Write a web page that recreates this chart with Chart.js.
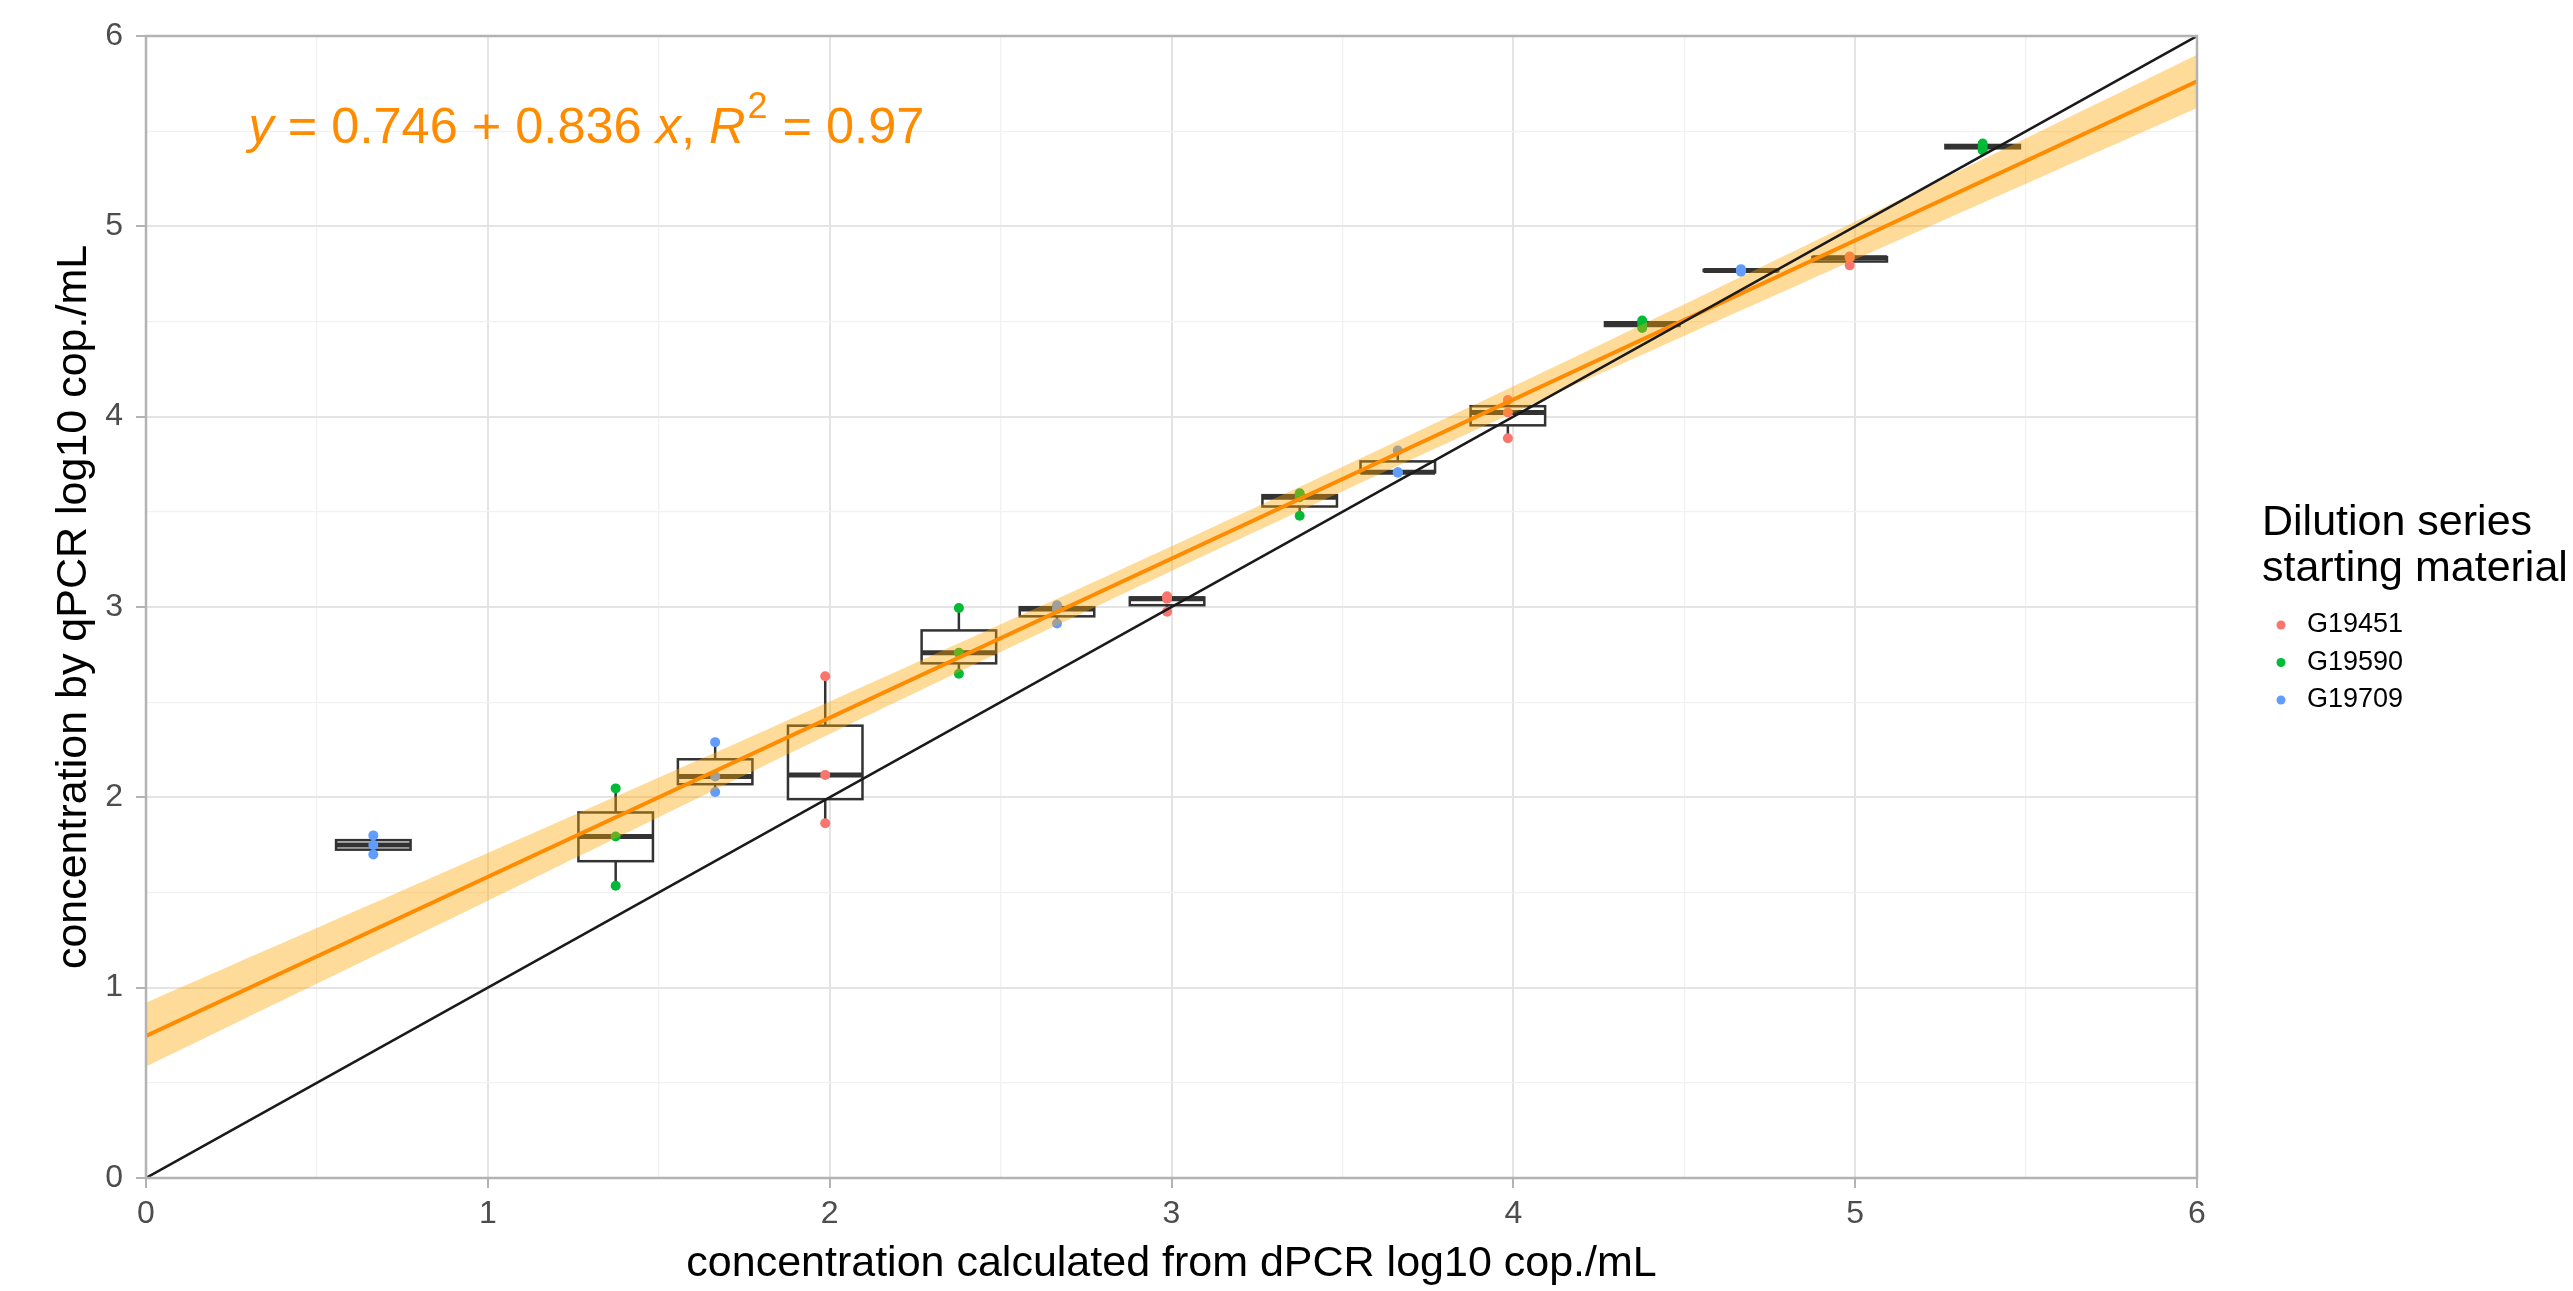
<!DOCTYPE html>
<html>
<head>
<meta charset="utf-8">
<title>qPCR vs dPCR</title>
<script src="https://cdn.jsdelivr.net/npm/chart.js@4.4.1/dist/chart.umd.min.js"></script>
<style>
  html, body { margin: 0; padding: 0; background: #fff; }
  #wrap { width: 2573px; height: 1291px; position: relative; }
</style>
</head>
<body>
<div id="wrap"><canvas id="chart"></canvas></div>
<script>
// dilution series starting materials
const materials = ['G19451', 'G19590', 'G19709'];
const materialColors = ['#F8766D', '#00BA38', '#619CFF'];

// one box per dilution step: dPCR concentration, material, qPCR replicates
const dpcrConc = [0.665, 1.374, 1.665, 1.987, 2.378, 2.665, 2.987, 3.375, 3.662, 3.984, 4.377, 4.666, 4.984, 5.373];
const boxMaterial = [2, 1, 2, 0, 1, 2, 0, 1, 2, 0, 1, 2, 0, 1];
const qpcrReps = [
    [1.80, 1.75, 1.70],
    [2.047, 1.794, 1.535],
    [2.29, 2.11, 2.028],
    [2.636, 2.117, 1.864],
    [2.995, 2.759, 2.649],
    [3.009, 2.989, 2.913],
    [3.056, 3.044, 2.975],
    [3.598, 3.577, 3.479],
    [3.822, 3.708, 3.706],
    [4.088, 4.022, 3.887],
    [4.505, 4.487, 4.466],
    [4.775, 4.768, 4.762],
    [4.842, 4.835, 4.795],
    [5.435, 5.42, 5.40]
];

// regression line and its confidence band
const fitX = [0, 6];
const fitY = [0.746, 5.762];
const bandX = [0, 1, 2, 3, 4, 5, 6];
const bandUpper = [0.921, 1.707, 2.503, 3.319, 4.16, 5.026, 5.902];
const bandLower = [0.586, 1.457, 2.333, 3.189, 4.02, 4.826, 5.622];

// y = x reference line
const identityX = [0, 6];
const identityY = [0, 6];

const equationParts = [
    { text: 'y', italic: true },
    { text: ' = 0.746 + 0.836 ' },
    { text: 'x', italic: true },
    { text: ', ' },
    { text: 'R', italic: true },
    { text: '2', sup: true },
    { text: ' = 0.97' }
];
const legendTitle = ['Dilution series', 'starting material'];

const FONT = '"Liberation Sans", Arial, Helvetica, sans-serif';
const BOX_HALF = 0.109;   // half box width in x units
const ORANGE = '#FF8C00';

Chart.defaults.font.family = FONT;

// ggplot-style quantile (type 7)
function quantile(sorted, p) {
    const h = (sorted.length - 1) * p;
    const lo = Math.floor(h);
    const hi = Math.min(lo + 1, sorted.length - 1);
    return sorted[lo] + (h - lo) * (sorted[hi] - sorted[lo]);
}

const boxStats = dpcrConc.map((xv, i) => {
    const s = qpcrReps[i].slice().sort((a, b) => a - b);
    return {
        x: xv,
        min: s[0],
        q1: quantile(s, 0.25),
        med: quantile(s, 0.5),
        q3: quantile(s, 0.75),
        max: s[s.length - 1]
    };
});

const isMajor = (c) => c.tick && Math.abs(c.tick.value - Math.round(c.tick.value)) < 1e-9;

// boxes go under everything else
const boxPlugin = {
    id: 'boxes',
    beforeDatasetsDraw(chart) {
        const { ctx, chartArea, scales: { x, y } } = chart;
        ctx.save();
        ctx.beginPath();
        ctx.rect(chartArea.left, chartArea.top, chartArea.width, chartArea.height);
        ctx.clip();
        ctx.strokeStyle = '#333333';
        boxStats.forEach(b => {
            const xl = x.getPixelForValue(b.x - BOX_HALF);
            const xr = x.getPixelForValue(b.x + BOX_HALF);
            const xc = x.getPixelForValue(b.x);
            const yMin = y.getPixelForValue(b.min);
            const yQ1 = y.getPixelForValue(b.q1);
            const yMed = y.getPixelForValue(b.med);
            const yQ3 = y.getPixelForValue(b.q3);
            const yMax = y.getPixelForValue(b.max);

            ctx.lineWidth = 2.5;
            ctx.beginPath();
            ctx.moveTo(xc, yQ3); ctx.lineTo(xc, yMax);
            ctx.moveTo(xc, yQ1); ctx.lineTo(xc, yMin);
            ctx.stroke();

            ctx.fillStyle = '#ffffff';
            ctx.fillRect(xl, yQ3, xr - xl, yQ1 - yQ3);
            ctx.strokeRect(xl, yQ3, xr - xl, yQ1 - yQ3);

            ctx.lineWidth = 5;
            ctx.beginPath();
            ctx.moveTo(xl, yMed); ctx.lineTo(xr, yMed);
            ctx.stroke();
        });
        ctx.restore();
    }
};

// panel border + fit equation on top of the data, legend at the right
const overlayPlugin = {
    id: 'overlay',
    afterDatasetsDraw(chart) {
        const { ctx, chartArea, scales: { x, y } } = chart;
        ctx.save();
        ctx.strokeStyle = '#B3B3B3';
        ctx.lineWidth = 2.5;
        ctx.strokeRect(chartArea.left, chartArea.top, chartArea.width, chartArea.height);

        // equation label
        let px = x.getPixelForValue(0.3);
        const py = y.getPixelForValue(5.51);
        ctx.fillStyle = ORANGE;
        ctx.textBaseline = 'middle';
        ctx.textAlign = 'left';
        equationParts.forEach(p => {
            if (p.sup) {
                ctx.font = '36px ' + FONT;
                ctx.fillText(p.text, px + 2, py - 21);
                px += ctx.measureText(p.text).width + 3;
            } else {
                ctx.font = (p.italic ? 'italic ' : '') + '50.5px ' + FONT;
                ctx.fillText(p.text, px, py);
                px += ctx.measureText(p.text).width;
            }
        });
        ctx.restore();
    },
    afterDraw(chart) {
        const ctx = chart.ctx;
        ctx.save();
        ctx.fillStyle = '#000000';
        ctx.textAlign = 'left';
        ctx.textBaseline = 'middle';
        ctx.font = '43px ' + FONT;
        legendTitle.forEach((line, i) => ctx.fillText(line, 2262, 523 + i * 46));
        ctx.font = '27px ' + FONT;
        materials.forEach((m, i) => {
            const cy = 625 + i * 37.5;
            ctx.fillStyle = materialColors[i];
            ctx.beginPath();
            ctx.arc(2281, cy, 4.5, 0, Math.PI * 2);
            ctx.fill();
            ctx.fillStyle = '#000000';
            ctx.fillText(m, 2307, cy);
        });
        ctx.restore();
    }
};

const toPoints = (xs, ys) => xs.map((xv, i) => ({ x: xv, y: ys[i] }));

const pointSets = materials.map((name, m) => {
    const pts = [];
    dpcrConc.forEach((xv, i) => {
        if (boxMaterial[i] === m) qpcrReps[i].forEach(v => pts.push({ x: xv, y: v }));
    });
    return {
        label: name,
        data: pts,
        showLine: false,
        pointRadius: 5,
        pointBorderWidth: 0,
        backgroundColor: materialColors[m],
        borderColor: materialColors[m],
        order: 4
    };
});

const ctx = document.getElementById('chart').getContext('2d');
new Chart(ctx, {
    type: 'scatter',
    data: {
        datasets: [
            {
                label: 'y = x',
                data: toPoints(identityX, identityY),
                showLine: true,
                borderColor: '#1a1a1a',
                borderWidth: 2.5,
                pointRadius: 0,
                order: 0
            },
            {
                label: 'fit',
                data: toPoints(fitX, fitY),
                showLine: true,
                borderColor: ORANGE,
                borderWidth: 4,
                pointRadius: 0,
                order: 1
            },
            {
                label: 'band upper',
                data: toPoints(bandX, bandUpper),
                showLine: true,
                borderWidth: 0,
                borderColor: 'rgba(0,0,0,0)',
                pointRadius: 0,
                tension: 0.3,
                fill: '+1',
                backgroundColor: 'rgba(255, 165, 0, 0.4)',
                order: 2
            },
            {
                label: 'band lower',
                data: toPoints(bandX, bandLower),
                showLine: true,
                borderWidth: 0,
                borderColor: 'rgba(0,0,0,0)',
                pointRadius: 0,
                tension: 0.3,
                fill: false,
                order: 3
            },
            ...pointSets
        ]
    },
    options: {
        responsive: true,
        maintainAspectRatio: false,
        animation: false,
        devicePixelRatio: 1,
        events: [],
        layout: { padding: { top: 36, right: 376, bottom: 0, left: 0 } },
        plugins: {
            legend: { display: false },
            tooltip: { enabled: false }
        },
        scales: {
            x: {
                type: 'linear',
                min: 0,
                max: 6,
                afterFit: (s) => { s.height = 113; },
                border: { display: false },
                grid: {
                    color: c => isMajor(c) ? '#E4E4E4' : '#F1F1F1',
                    lineWidth: c => isMajor(c) ? 2 : 1.3,
                    tickLength: 10,
                    tickWidth: 2,
                    tickColor: c => isMajor(c) ? '#B3B3B3' : 'rgba(0,0,0,0)'
                },
                ticks: {
                    stepSize: 0.5,
                    autoSkip: false,
                    maxRotation: 0,
                    padding: 7,
                    color: '#4D4D4D',
                    font: { size: 32 },
                    callback: (v) => Math.abs(v - Math.round(v)) < 1e-9 ? String(Math.round(v)) : ''
                },
                title: {
                    display: true,
                    text: 'concentration calculated from dPCR log10 cop./mL',
                    color: '#000000',
                    font: { size: 43 },
                    padding: { top: 0, bottom: 1 }
                }
            },
            y: {
                type: 'linear',
                min: 0,
                max: 6,
                afterFit: (s) => { s.width = 146; },
                border: { display: false },
                grid: {
                    color: c => isMajor(c) ? '#E4E4E4' : '#F1F1F1',
                    lineWidth: c => isMajor(c) ? 2 : 1.3,
                    tickLength: 10,
                    tickWidth: 2,
                    tickColor: c => isMajor(c) ? '#B3B3B3' : 'rgba(0,0,0,0)'
                },
                ticks: {
                    stepSize: 0.5,
                    autoSkip: false,
                    padding: 13,
                    color: '#4D4D4D',
                    font: { size: 32 },
                    callback: (v) => Math.abs(v - Math.round(v)) < 1e-9 ? String(Math.round(v)) : ''
                },
                title: {
                    display: true,
                    text: 'concentration by qPCR log10 cop./mL',
                    color: '#000000',
                    font: { size: 43 },
                    padding: { top: 48, bottom: 0 }
                }
            }
        }
    },
    plugins: [boxPlugin, overlayPlugin]
});
</script>
</body>
</html>
